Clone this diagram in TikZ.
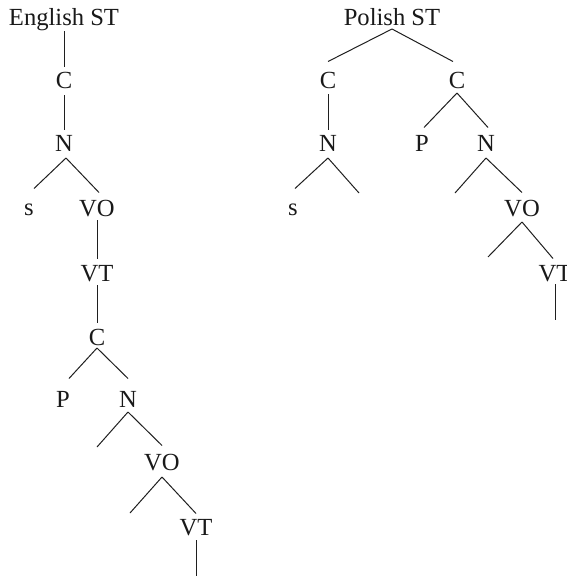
\documentclass[tikz,border=0pt]{standalone}
\usepackage{fontspec}
\setmainfont{Liberation Serif}
\begin{document}
\begin{tikzpicture}[x=1pt,y=-1pt,
  lab/.style={font=\fontsize{24.6}{28}\selectfont, inner sep=0pt, outer sep=0pt, text height=16.5pt, text depth=0pt, anchor=base, text=black!90},
  edge/.style={line width=1pt, black!88}]
\useasboundingbox (0,0) rectangle (567,576);
\clip (0,0) rectangle (567,576);
% English tree
\node[lab] (eST) at (64,25) {English ST};
\node[lab] (eC) at (64,88) {C};
\node[lab] (eN) at (64,151) {N};
\node[lab] (es) at (29,215) {s};
\node[lab] (eVO) at (97,216) {VO};
\node[lab] (eVT) at (97,281) {VT};
\node[lab] (eCb) at (97,345) {C};
\node[lab] (eP) at (63,407) {P};
\node[lab] (eNb) at (128,407) {N};
\coordinate (el1) at (97,447);
\node[lab] (eVOb) at (162,470) {VO};
\coordinate (el2) at (130,513);
\node[lab] (eVTb) at (196,535) {VT};
\coordinate (el3) at (196,580);
% Polish tree
\node[lab] (pST) at (392,25) {Polish ST};
\node[lab] (pC1) at (328,88) {C};
\node[lab] (pC2) at (457,88) {C};
\node[lab] (pN1) at (328,151) {N};
\node[lab] (ps) at (293,215) {s};
\coordinate (pl1) at (359,193);
\node[lab] (pP) at (422,151) {P};
\node[lab] (pN2) at (486,151) {N};
\coordinate (pl2) at (455,193);
\node[lab] (pVO) at (522,216) {VO};
\coordinate (pl3) at (488,257);
\node[lab] (pVT) at (555,281) {VT};
\coordinate (pl4) at (555,320);
% English edges
\draw[edge] ([yshift=-6pt]eST.base) -- ([yshift=5pt]eC.north);
\draw[edge] ([yshift=-7pt]eC.south) -- ([yshift=5pt]eN.north);
\draw[edge] ([xshift=2pt,yshift=-7pt]eN.south) -- ([xshift=5pt,yshift=10pt]es.north);
\draw[edge] ([xshift=2pt,yshift=-7pt]eN.south) -- ([xshift=2pt,yshift=7pt]eVO.north);
\draw[edge] ([yshift=-4pt]eVO.south) -- ([yshift=6pt]eVT.north);
\draw[edge] ([yshift=-4pt]eVT.south) -- ([yshift=6pt]eCb.north);
\draw[edge] ([yshift=-3pt]eCb.south) -- ([xshift=6pt,yshift=12pt]eP.north);
\draw[edge] ([yshift=-3pt]eCb.south) -- ([yshift=12pt]eNb.north);
\draw[edge] ([yshift=-5pt]eNb.south) -- (el1);
\draw[edge] ([yshift=-5pt]eNb.south) -- ([yshift=8pt]eVOb.north);
\draw[edge] ([yshift=-7pt]eVOb.south) -- (el2);
\draw[edge] ([yshift=-7pt]eVOb.south) -- ([yshift=5pt]eVTb.north);
\draw[edge] ([yshift=-5pt]eVTb.south) -- (el3);
% Polish edges
\draw[edge] ([yshift=-4pt]pST.south) -- ([yshift=10pt]pC1.north);
\draw[edge] ([yshift=-4pt]pST.south) -- ([xshift=-4pt,yshift=10pt]pC2.north);
\draw[edge] ([yshift=-6pt]pC1.south) -- ([yshift=5pt]pN1.north);
\draw[edge] ([yshift=-7pt]pN1.south) -- ([xshift=2pt,yshift=10pt]ps.north);
\draw[edge] ([yshift=-7pt]pN1.south) -- (pl1);
\draw[edge] ([yshift=-5pt]pC2.south) -- ([xshift=2pt,yshift=7pt]pP.north);
\draw[edge] ([yshift=-5pt]pC2.south) -- ([xshift=2pt,yshift=7pt]pN2.north);
\draw[edge] ([yshift=-7pt]pN2.south) -- (pl2);
\draw[edge] ([yshift=-7pt]pN2.south) -- ([yshift=7pt]pVO.north);
\draw[edge] ([yshift=-6pt]pVO.south) -- (pl3);
\draw[edge] ([yshift=-6pt]pVO.south) -- ([xshift=-2pt,yshift=6pt]pVT.north);
\draw[edge] ([yshift=-3pt]pVT.south) -- (pl4);
\end{tikzpicture}
\end{document}
